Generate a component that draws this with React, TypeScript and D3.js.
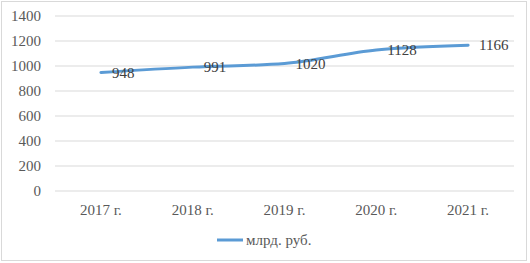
import React from "react";
import * as d3 from "d3";

const categories = ["2017 г.", "2018 г.", "2019 г.", "2020 г.", "2021 г."];
const values = [948, 991, 1020, 1128, 1166];
const yTicks = [0, 200, 400, 600, 800, 1000, 1200, 1400];
const seriesName = "млрд. руб.";

const FF = "Liberation Serif";

export default function App() {
  const W = 530, H = 263;
  const left = 55, right = 514, top = 16, bottom = 191;
  const x = d3.scaleBand().domain(categories).range([left, right]);
  const y = d3.scaleLinear().domain([0, 1400]).range([bottom, top]);
  const pts = values.map((v, i) => [(x(categories[i]) as number) + x.bandwidth() / 2, y(v)] as [number, number]);
  const line = d3.line().curve(d3.curveMonotoneX)(pts) || "";
  const fs = 15;
  return (
    <div style={{ position: "fixed", left: 0, top: 0, width: W, height: H, fontFamily: FF }}>
      <style>{`svg text { font-family: "Liberation Serif", "Times New Roman", serif !important; }`}</style>
      <svg width={W} height={H} style={{ display: "block" }}>
        <rect x={0} y={0} width={W} height={H} fill="#fff" />
        <rect x={1.5} y={1.5} width={525} height={259} fill="none" stroke="#d9d9d9" strokeWidth={1} />
        {yTicks.map((t) => (
          <line key={"g" + t} x1={left} x2={right} y1={y(t)} y2={y(t)} stroke="#d9d9d9" strokeWidth={1} />
        ))}
        {yTicks.map((t) => (
          <text key={"t" + t} x={41} y={y(t) + 5} textAnchor="end" fontSize={fs} fill="#595959" fontFamily={FF}>{t}</text>
        ))}
        {categories.map((c) => (
          <text key={c} x={(x(c) as number) + x.bandwidth() / 2} y={215} textAnchor="middle" fontSize={fs} fill="#595959" fontFamily={FF}>{c}</text>
        ))}
        <path d={line} fill="none" stroke="#5b9bd5" strokeWidth={3} strokeLinecap="round" />
        {values.map((v, i) => (
          <text key={"v" + i} x={pts[i][0] + 11} y={pts[i][1] + 5} fontSize={fs} fill="#404040" fontFamily={FF}>{v}</text>
        ))}
        <line x1={217} x2={243} y1={240} y2={240} stroke="#5b9bd5" strokeWidth={3} />
        <text x={246} y={245} fontSize={fs} fill="#595959" fontFamily={FF}>{seriesName}</text>
      </svg>
    </div>
  );
}
